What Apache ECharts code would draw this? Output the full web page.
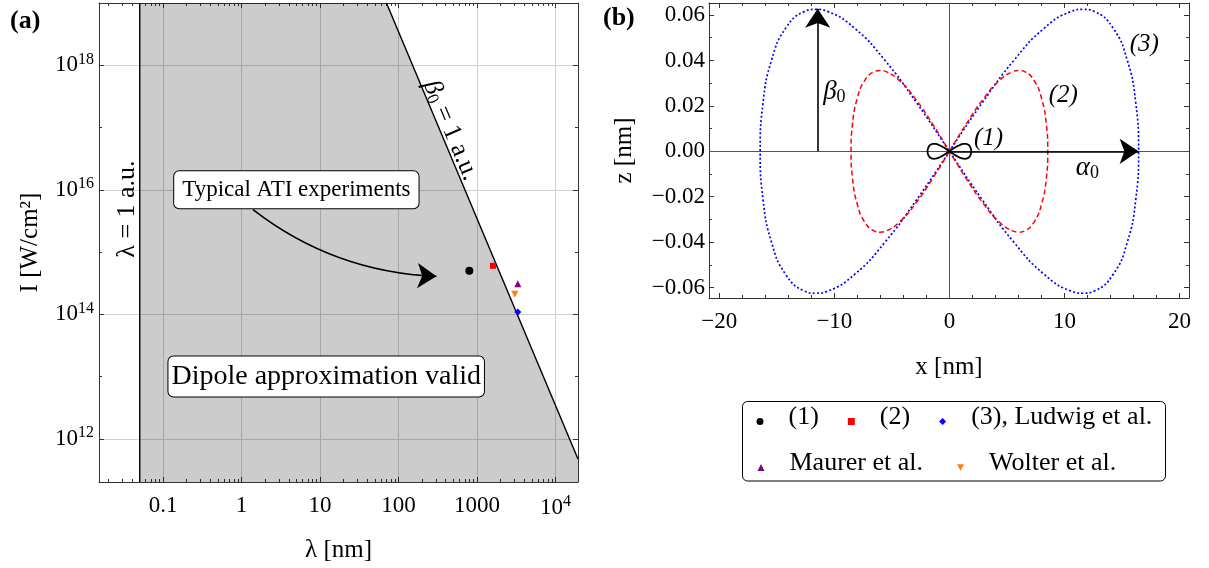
<!DOCTYPE html>
<html><head><meta charset="utf-8">
<script src="https://cdn.jsdelivr.net/npm/echarts@6/dist/echarts.min.js"></script>
<style>html,body{margin:0;padding:0;background:#fff}#c{width:1209px;height:568px}</style>
</head><body><div id="c"></div>
<script>
// ================= Panel (a): lambda vs intensity =================
const lambdaRange = [0.01528, 19400];          // nm
const intensityRange = [2.02e11, 1e19];        // W/cm^2
const lambdaTicks = [0.1, 1, 10, 100, 1000, 10000];
const lambdaTickText = ['0.1', '1', '10', '100', '1000', '10^4'];
const intensityTicks = [1e12, 1e14, 1e16, 1e18];
const intensityTickText = ['10^12', '10^14', '10^16', '10^18'];
const lambdaAuLine = [[0.0505, 2.02e11], [0.0505, 1e19]];
const beta0Line = [[70.3, 1e19], [19400, 4.74e11]];
const dipoleRegion = [[0.0505, 1e19], [70.3, 1e19], [19400, 4.74e11]];
const atiArrow = [[1.40, 4.8e15], [305, 4.07e14]];
const pointNames = ['(1)', '(2)', '(3), Ludwig et al.', 'Maurer et al.', 'Wolter et al.'];
const pointValues = [
  [[800, 5.0e14]],
  [[1600, 6.0e14]],
  [[3320, 1.09e14]],
  [[3320, 3.1e14]],
  [[3040, 2.1e14]]
];
const annotTextA = ['Typical ATI experiments', 'Dipole approximation valid', 'λ = 1 a.u.', 'β0 = 1 a.u.'];
const annotPosA = [[5, 1e16], [12, 1e13], [0.0351, 4.9e15], [462, 9.0e16]];

// ================= Panel (b): trajectories x-z =================
const xRangeB = [-20.9, 20.83];
const zRangeB = [-0.0646, 0.0653];
const xTicksB = [-20, -10, 0, 10, 20];
const xTickTextB = ['−20', '−10', '0', '10', '20'];
const zTicksB = [-0.06, -0.04, -0.02, 0, 0.02, 0.04, 0.06];
const zTickTextB = ['−0.06', '−0.04', '−0.02', '0.00', '0.02', '0.04', '0.06'];
const traj1 = [
  [0,0],[0.330,0.00113],[0.650,0.00212],[0.950,0.00286],[1.221,0.00325],[1.343,0.0033],[1.455,0.00325],[1.645,0.00286],[1.785,0.00212],[1.871,0.00113],[1.9,0],
  [1.871,-0.00113],[1.785,-0.00212],[1.645,-0.00286],[1.455,-0.00325],[1.343,-0.0033],[1.221,-0.00325],[0.950,-0.00286],[0.650,-0.00212],[0.330,-0.00113],[0,0],
  [-0.330,0.00113],[-0.650,0.00212],[-0.950,0.00286],[-1.221,0.00325],[-1.343,0.0033],[-1.455,0.00325],[-1.645,0.00286],[-1.785,0.00212],[-1.871,0.00113],[-1.9,0],
  [-1.871,-0.00113],[-1.785,-0.00212],[-1.645,-0.00286],[-1.455,-0.00325],[-1.343,-0.0033],[-1.221,-0.00325],[-0.950,-0.00286],[-0.650,-0.00212],[-0.330,-0.00113],[0,0]
];
const traj2 = [
  [0,0],[1.484,0.01218],[2.924,0.02288],[4.275,0.03083],[5.496,0.03506],[6.046,0.0356],[6.549,0.03506],[7.404,0.03083],[8.034,0.02288],[8.42,0.01218],[8.55,0],
  [8.42,-0.01218],[8.034,-0.02288],[7.404,-0.03083],[6.549,-0.03506],[6.046,-0.0356],[5.496,-0.03506],[4.275,-0.03083],[2.924,-0.02288],[1.484,-0.01218],[0,0],
  [-1.484,0.01218],[-2.924,0.02288],[-4.275,0.03083],[-5.496,0.03506],[-6.046,0.0356],[-6.549,0.03506],[-7.404,0.03083],[-8.034,0.02288],[-8.42,0.01218],[-8.55,0],
  [-8.42,-0.01218],[-8.034,-0.02288],[-7.404,-0.03083],[-6.549,-0.03506],[-6.046,-0.0356],[-5.496,-0.03506],[-4.275,-0.03083],[-2.924,-0.02288],[-1.484,-0.01218],[0,0]
];
const traj3 = [
  [0,0],[2.856,0.02138],[5.626,0.04018],[8.225,0.05413],[10.574,0.06155],[11.632,0.0625],[12.601,0.06155],[14.246,0.05413],[15.458,0.04018],[16.2,0.02138],[16.45,0],
  [16.2,-0.02138],[15.458,-0.04018],[14.246,-0.05413],[12.601,-0.06155],[11.632,-0.0625],[10.574,-0.06155],[8.225,-0.05413],[5.626,-0.04018],[2.856,-0.02138],[0,0],
  [-2.856,0.02138],[-5.626,0.04018],[-8.225,0.05413],[-10.574,0.06155],[-11.632,0.0625],[-12.601,0.06155],[-14.246,0.05413],[-15.458,0.04018],[-16.2,0.02138],[-16.45,0],
  [-16.2,-0.02138],[-15.458,-0.04018],[-14.246,-0.05413],[-12.601,-0.06155],[-11.632,-0.0625],[-10.574,-0.06155],[-8.225,-0.05413],[-5.626,-0.04018],[-2.856,-0.02138],[0,0]
];
const beta0Arrow = [[-11.45, 0], [-11.45, 0.0628]];
const alpha0Arrow = [[0, 0], [16.45, 0]];
const annotTextB = ['(1)', '(2)', '(3)', 'α0', 'β0'];
const annotPosB = [[3.4, 0.0058], [9.9, 0.0246], [16.95, 0.0471], [12.0, -0.0072], [-10.0, 0.026]];

// ================= styling / building =================
const FONT = "'Liberation Serif', 'Times New Roman', serif";
const AX = '#333';
const richNum = {
  b: { fontFamily: FONT, fontSize: 23, color: '#000' },
  s: { fontFamily: FONT, fontSize: 16, color: '#000', padding: [0, 0, 11, 0] }
};
function fmtPow(t) {
  if (t.indexOf('^') > 0) { const p = t.split('^'); return '{b|' + p[0] + '}{s|' + p[1] + '}'; }
  return '{b|' + t + '}';
}
function logLabel(ticks, texts) {
  return function (v) {
    for (let i = 0; i < ticks.length; i++) {
      if (Math.abs(Math.log10(v) - Math.log10(ticks[i])) < 1e-6) return fmtPow(texts[i]);
    }
    return '';
  };
}
function linLabel(ticks, texts, tol) {
  return function (v) {
    for (let i = 0; i < ticks.length; i++) {
      if (Math.abs(v - ticks[i]) < tol) return texts[i];
    }
    return '';
  };
}
const tickInside = (len) => ({ show: true, inside: true, length: len, lineStyle: { color: AX, width: 1 } });
const axisLine = { show: true, onZero: false, lineStyle: { color: AX, width: 1 } };

const markerSymbols = ['circle', 'rect', 'diamond', 'triangle', 'path://M0,0L10,0L5,9Z'];
const markerColors = ['#000000', '#ff0000', '#0000ff', '#800080', '#ff8000'];
const markerSizes = [8, 6, 7, 7, 7];

const series = [];
series.push({
  type: 'line', xAxisIndex: 0, yAxisIndex: 0, data: dipoleRegion, symbol: 'none', silent: true, z: 1,
  lineStyle: { width: 0 }, areaStyle: { color: 'rgba(0,0,0,0.2)', origin: 'start', opacity: 1 }
});
series.push({ type: 'line', xAxisIndex: 0, yAxisIndex: 0, data: lambdaAuLine, symbol: 'none', silent: true, z: 3,
  lineStyle: { color: '#000', width: 1.4 } });
series.push({ type: 'line', xAxisIndex: 0, yAxisIndex: 0, data: beta0Line, symbol: 'none', silent: true, z: 3,
  lineStyle: { color: '#000', width: 1.4 } });
series.push({
  type: 'lines', coordinateSystem: 'cartesian2d', xAxisIndex: 0, yAxisIndex: 0, silent: true, z: 4,
  symbol: ['none', 'arrow'], symbolSize: [10, 19],
  lineStyle: { color: '#000', width: 1.6, curveness: -0.16, opacity: 1 },
  data: [{ coords: atiArrow }]
});
pointNames.forEach((n, i) => {
  series.push({
    type: 'scatter', name: n, xAxisIndex: 0, yAxisIndex: 0, data: pointValues[i], z: 6,
    symbol: markerSymbols[i], symbolSize: markerSizes[i], itemStyle: { color: markerColors[i], opacity: 1 }
  });
});
const boxLabel = (fs, pad) => ({ show: true, position: 'inside', color: '#000', fontFamily: FONT, fontSize: fs,
  backgroundColor: '#fff', borderColor: '#000', borderWidth: 1, borderRadius: 5, padding: pad, opacity: 1 });
const annotStylesA = [
  boxLabel(23, [7, 8, 7, 8]),
  boxLabel(28, [6, 3, 6, 3]),
  { show: true, position: 'inside', rotate: 90, color: '#000', fontFamily: FONT, fontSize: 26, opacity: 1 },
  { show: true, position: 'inside', rotate: -67, color: '#000', fontFamily: FONT, fontSize: 26, opacity: 1,
    formatter: '{i|β}{sub|0}{n| = 1 a.u.}',
    rich: { i: { fontFamily: FONT, fontSize: 26, fontStyle: 'italic', color: '#000' }, sub: { fontFamily: FONT, fontSize: 17, color: '#000', padding: [10, 0, 0, 0] }, n: { fontFamily: FONT, fontSize: 26, color: '#000' } } }
];
series.push({
  type: 'scatter', xAxisIndex: 0, yAxisIndex: 0, symbolSize: 0, silent: true, z: 8, itemStyle: { opacity: 1 },
  data: annotTextA.map((t, i) => ({ name: t, value: annotPosA[i], label: Object.assign({ formatter: t }, annotStylesA[i]) }))
});
series.push({
  type: 'line', xAxisIndex: 2, yAxisIndex: 4, data: traj3, symbol: 'none', smooth: true, silent: true, z: 3,
  lineStyle: { color: '#0000ff', width: 1.7, type: [2, 2.2] },
  markLine: { silent: true, symbol: ['none', 'none'], label: { show: false }, animation: false,
    lineStyle: { color: '#555', width: 1, type: 'solid' }, data: [{ xAxis: 0 }, { yAxis: 0 }] }
});
series.push({ type: 'line', xAxisIndex: 2, yAxisIndex: 4, data: traj2, symbol: 'none', smooth: true, silent: true, z: 4,
  lineStyle: { color: '#ff0000', width: 1.5, type: [5, 3] } });
series.push({ type: 'line', xAxisIndex: 2, yAxisIndex: 4, data: traj1, symbol: 'none', smooth: true, silent: true, z: 5,
  lineStyle: { color: '#000', width: 1.8 } });
series.push({
  type: 'lines', coordinateSystem: 'cartesian2d', xAxisIndex: 2, yAxisIndex: 4, silent: true, z: 6,
  symbol: ['none', 'arrow'], symbolSize: [10, 19],
  lineStyle: { color: '#000', width: 1.6, opacity: 1 },
  data: [{ coords: beta0Arrow }, { coords: alpha0Arrow }]
});
const greekRich = { i: { fontFamily: FONT, fontSize: 27, fontStyle: 'italic', color: '#000' }, sub: { fontFamily: FONT, fontSize: 18, color: '#000', padding: [11, 0, 0, 0] } };
series.push({
  type: 'scatter', xAxisIndex: 2, yAxisIndex: 4, symbolSize: 0, silent: true, z: 8, itemStyle: { opacity: 1 },
  data: annotTextB.map((t, i) => ({
    name: t, value: annotPosB[i],
    label: t.length === 2
      ? { show: true, position: 'inside', opacity: 1, formatter: '{i|' + t[0] + '}{sub|' + t[1] + '}', rich: greekRich }
      : { show: true, position: 'inside', opacity: 1, formatter: t, fontFamily: FONT, fontSize: 25, fontStyle: 'italic', color: '#000' }
  }))
});

function legendRow(names, left, top, gap) {
  return {
    left: left, top: top, orient: 'horizontal',
    itemWidth: 7, itemHeight: 7, itemGap: gap, padding: 0,
    selectedMode: false, itemStyle: { opacity: 1 }, z: 6,
    formatter: (n) => '{t|' + n + '}',
    textStyle: { fontFamily: FONT, fontSize: 26, color: '#000',
      rich: { t: { fontFamily: FONT, fontSize: 26, color: '#000', lineHeight: 20, padding: [0, 15, 9, 20] } } },
    data: names.map((n) => ({ name: n, icon: markerSymbols[pointNames.indexOf(n)] }))
  };
}

const option = {
  animation: false,
  backgroundColor: '#fff',
  textStyle: { fontFamily: FONT },
  grid: [
    { left: 99, top: 3, width: 479, height: 479 },
    { left: 709, top: 3, width: 480, height: 295 }
  ],
  xAxis: [
    { type: 'log', logBase: 10, gridIndex: 0, position: 'bottom', min: lambdaRange[0], max: lambdaRange[1],
      name: 'λ [nm]', nameLocation: 'middle', nameGap: 56, nameTextStyle: { fontFamily: FONT, fontSize: 25, color: '#000' },
      axisLine: axisLine, axisTick: tickInside(5), minorTick: { show: true, splitNumber: 9, length: 3, lineStyle: { color: AX } },
      axisLabel: { margin: 12, formatter: logLabel(lambdaTicks, lambdaTickText), rich: richNum },
      splitLine: { show: true, lineStyle: { color: '#d0d0d0', width: 1 } } },
    { type: 'log', logBase: 10, gridIndex: 0, position: 'top', min: lambdaRange[0], max: lambdaRange[1],
      axisLine: axisLine, axisTick: tickInside(5), minorTick: { show: true, splitNumber: 9, length: 3, lineStyle: { color: AX } },
      axisLabel: { show: false }, splitLine: { show: false } },
    { type: 'value', gridIndex: 1, position: 'bottom', min: xRangeB[0], max: xRangeB[1], splitNumber: 4,
      name: 'x [nm]', nameLocation: 'middle', nameGap: 57, nameTextStyle: { fontFamily: FONT, fontSize: 25, color: '#000' },
      axisLine: axisLine, axisTick: tickInside(5), minorTick: { show: true, splitNumber: 5, length: 3, lineStyle: { color: AX } },
      axisLabel: { margin: 12, fontFamily: FONT, fontSize: 23, color: '#000', formatter: linLabel(xTicksB, xTickTextB, 1e-6) },
      splitLine: { show: false } },
    { type: 'value', gridIndex: 1, position: 'top', min: xRangeB[0], max: xRangeB[1], splitNumber: 4,
      axisLine: axisLine, axisTick: tickInside(5), minorTick: { show: true, splitNumber: 5, length: 3, lineStyle: { color: AX } },
      axisLabel: { show: false }, splitLine: { show: false } }
  ],
  yAxis: [
    { type: 'log', logBase: 100, gridIndex: 0, position: 'left', min: intensityRange[0], max: intensityRange[1],
      name: 'I [W/cm²]', nameLocation: 'middle', nameGap: 56, nameRotate: 90, nameTextStyle: { fontFamily: FONT, fontSize: 25, color: '#000' },
      axisLine: axisLine, axisTick: tickInside(5),
      axisLabel: { margin: 5, formatter: logLabel(intensityTicks, intensityTickText), rich: richNum },
      splitLine: { show: true, lineStyle: { color: '#d0d0d0', width: 1 } } },
    { type: 'log', logBase: 10, gridIndex: 0, position: 'left', min: intensityRange[0], max: intensityRange[1],
      axisLine: { show: false }, axisTick: tickInside(3), axisLabel: { show: false }, splitLine: { show: false } },
    { type: 'log', logBase: 100, gridIndex: 0, position: 'right', min: intensityRange[0], max: intensityRange[1],
      axisLine: axisLine, axisTick: tickInside(5), axisLabel: { show: false }, splitLine: { show: false } },
    { type: 'log', logBase: 10, gridIndex: 0, position: 'right', min: intensityRange[0], max: intensityRange[1],
      axisLine: { show: false }, axisTick: tickInside(3), axisLabel: { show: false }, splitLine: { show: false } },
    { type: 'value', gridIndex: 1, position: 'left', min: zRangeB[0], max: zRangeB[1], splitNumber: 6,
      name: 'z [nm]', nameLocation: 'middle', nameGap: 72, nameRotate: 90, nameTextStyle: { fontFamily: FONT, fontSize: 25, color: '#000' },
      axisLine: axisLine, axisTick: tickInside(5), minorTick: { show: true, splitNumber: 2, length: 3, lineStyle: { color: AX } },
      axisLabel: { margin: 4, fontFamily: FONT, fontSize: 23, color: '#000', formatter: linLabel(zTicksB, zTickTextB, 1e-7) },
      splitLine: { show: false } },
    { type: 'value', gridIndex: 1, position: 'right', min: zRangeB[0], max: zRangeB[1], splitNumber: 6,
      axisLine: axisLine, axisTick: tickInside(5), minorTick: { show: true, splitNumber: 2, length: 3, lineStyle: { color: AX } },
      axisLabel: { show: false }, splitLine: { show: false } }
  ],
  legend: [
    legendRow(pointNames.slice(0, 3), 756.5, 404, 14),
    legendRow(pointNames.slice(3), 757.5, 450, 19)
  ],
  graphic: [
    { type: 'rect', z: 1, shape: { x: 742.5, y: 401.5, width: 423, height: 79.5, r: 5 },
      style: { fill: '#fff', stroke: '#000', lineWidth: 1 } },
    { type: 'text', left: 10, top: 8, style: { text: '(a)', font: "bold 26px 'Liberation Serif'", fill: '#000' } },
    { type: 'text', left: 603, top: 5, style: { text: '(b)', font: "bold 26px 'Liberation Serif'", fill: '#000' } }
  ],
  series: series
};
const chart = echarts.init(document.getElementById('c'));
chart.setOption(option);
</script>
</body></html>
